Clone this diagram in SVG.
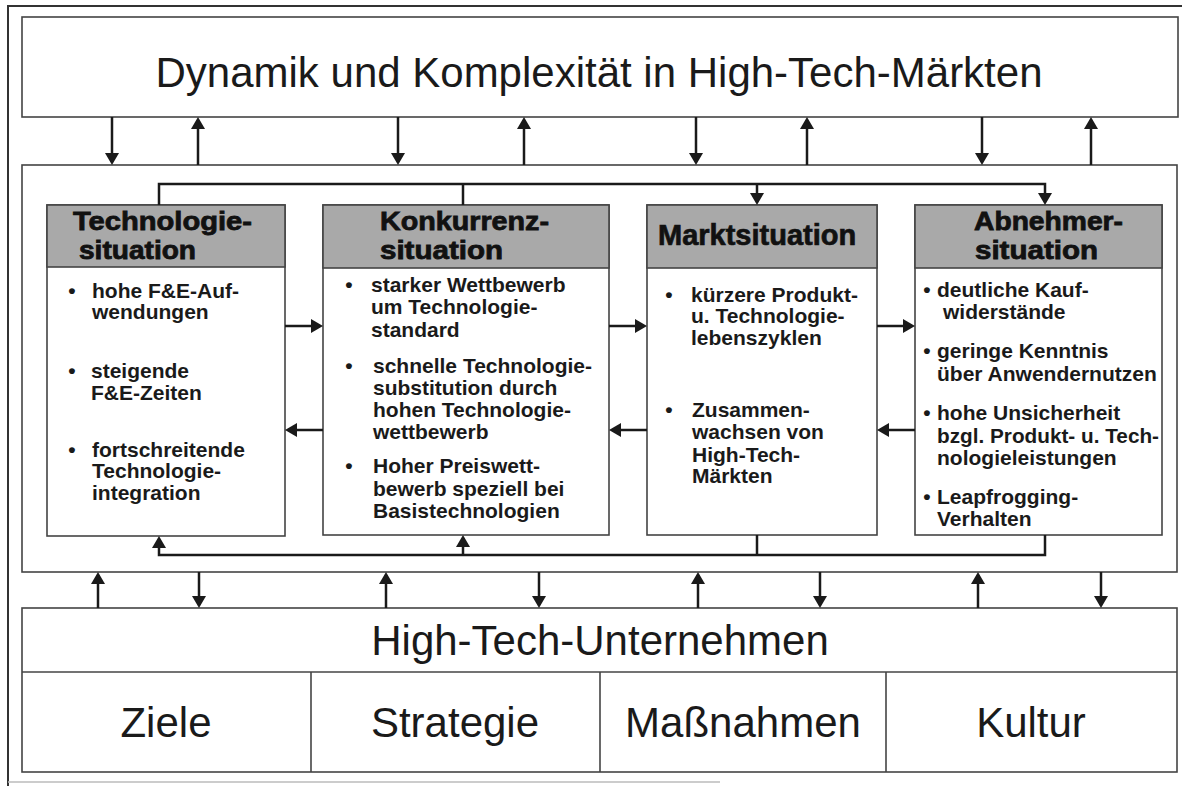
<svg xmlns="http://www.w3.org/2000/svg" width="1182" height="786" viewBox="0 0 1182 786">
<defs>
<style>
.frame{fill:none;stroke:#333;stroke-width:2}
.box{fill:#fff;stroke:#444;stroke-width:1.6}
.hdr{fill:#a9a9a9;stroke:#444;stroke-width:1.6}
.big{font-family:"Liberation Sans",Arial,Helvetica,sans-serif;font-size:42px;fill:#1a1a1a}
.h{font-family:"Liberation Sans",Arial,Helvetica,sans-serif;font-weight:bold;font-size:26px;fill:#111;stroke:#111;stroke-width:0.8}
.h1{font-family:"Liberation Sans",Arial,Helvetica,sans-serif;font-weight:bold;font-size:29px;fill:#111;stroke:#111;stroke-width:0.7}
.t{font-family:"Liberation Sans",Arial,Helvetica,sans-serif;font-weight:bold;font-size:21px;fill:#1a1a1a}
.c{fill:none;stroke:#1a1a1a;stroke-width:2.5}
.a{fill:none;stroke:#1a1a1a;stroke-width:2.5;marker-end:url(#arr)}
</style>
<marker id="arr" viewBox="0 0 12 14" refX="9" refY="7" markerWidth="12" markerHeight="14" markerUnits="userSpaceOnUse" orient="auto">
<path d="M0,0 L12,7 L0,14 z" fill="#1a1a1a"/>
</marker>
</defs>
<rect width="1182" height="786" fill="#fff"/>
<g id="outer-frame">
<path class="frame" d="M1182,6 H8 V786"/>
<line x1="8" y1="782" x2="720" y2="782" stroke="#bbb" stroke-width="1.5"/>
</g>

<g id="title">
<rect class="box" x="22" y="17" width="1156" height="100"/>
<text class="big" x="599" y="87" text-anchor="middle">Dynamik und Komplexität in High-Tech-Märkten</text>
</g>

<g id="environment">
<rect class="box" x="22" y="165" width="1155" height="407"/>
</g>

<g id="technologie">
<rect class="box" x="47" y="205" width="238" height="331"/>
<rect class="hdr" x="47" y="205" width="238" height="62"/>
<text class="h" x="73" y="230" textLength="179" lengthAdjust="spacingAndGlyphs">Technologie-</text>
<text class="h" x="79" y="259" textLength="117" lengthAdjust="spacingAndGlyphs">situation</text>
<text class="t" x="72" y="298" text-anchor="middle">•</text>
<text class="t" x="92" y="298">hohe F&amp;E-Auf-</text>
<text class="t" x="92" y="319">wendungen</text>
<text class="t" x="72" y="378" text-anchor="middle">•</text>
<text class="t" x="91" y="378">steigende</text>
<text class="t" x="91" y="400">F&amp;E-Zeiten</text>
<text class="t" x="72" y="457" text-anchor="middle">•</text>
<text class="t" x="92" y="457">fortschreitende</text>
<text class="t" x="92" y="478">Technologie-</text>
<text class="t" x="92" y="500">integration</text>
</g>

<g id="konkurrenz">
<rect class="box" x="323" y="205" width="286" height="330"/>
<rect class="hdr" x="323" y="205" width="286" height="63"/>
<text class="h" x="380" y="230" textLength="169" lengthAdjust="spacingAndGlyphs">Konkurrenz-</text>
<text class="h" x="380" y="259" textLength="123" lengthAdjust="spacingAndGlyphs">situation</text>
<text class="t" x="349" y="292" text-anchor="middle">•</text>
<text class="t" x="371" y="292">starker Wettbewerb</text>
<text class="t" x="371" y="314">um Technologie-</text>
<text class="t" x="371" y="337">standard</text>
<text class="t" x="349" y="373" text-anchor="middle">•</text>
<text class="t" x="373" y="373">schnelle Technologie-</text>
<text class="t" x="373" y="395">substitution durch</text>
<text class="t" x="373" y="417">hohen Technologie-</text>
<text class="t" x="373" y="439">wettbewerb</text>
<text class="t" x="349" y="473" text-anchor="middle">•</text>
<text class="t" x="373" y="473">Hoher Preiswett-</text>
<text class="t" x="373" y="496">bewerb speziell bei</text>
<text class="t" x="373" y="518">Basistechnologien</text>
</g>

<g id="markt">
<rect class="box" x="647" y="205" width="230" height="330"/>
<rect class="hdr" x="647" y="205" width="230" height="63"/>
<text class="h1" x="658" y="245">Marktsituation</text>
<text class="t" x="669" y="302" text-anchor="middle">•</text>
<text class="t" x="691" y="302">kürzere Produkt-</text>
<text class="t" x="691" y="323">u. Technologie-</text>
<text class="t" x="691" y="345">lebenszyklen</text>
<text class="t" x="669" y="417" text-anchor="middle">•</text>
<text class="t" x="692" y="417">Zusammen-</text>
<text class="t" x="692" y="439">wachsen von</text>
<text class="t" x="692" y="462">High-Tech-</text>
<text class="t" x="692" y="483">Märkten</text>
</g>

<g id="abnehmer">
<rect class="box" x="915" y="205" width="247" height="330"/>
<rect class="hdr" x="915" y="205" width="247" height="63"/>
<text class="h" x="974" y="230" textLength="149" lengthAdjust="spacingAndGlyphs">Abnehmer-</text>
<text class="h" x="975" y="259" textLength="123" lengthAdjust="spacingAndGlyphs">situation</text>
<text class="t" x="927" y="297" text-anchor="middle">•</text>
<text class="t" x="937" y="297">deutliche Kauf-</text>
<text class="t" x="943" y="319">widerstände</text>
<text class="t" x="927" y="358" text-anchor="middle">•</text>
<text class="t" x="937" y="358">geringe Kenntnis</text>
<text class="t" x="937" y="381">über Anwendernutzen</text>
<text class="t" x="927" y="420" text-anchor="middle">•</text>
<text class="t" x="937" y="420">hohe Unsicherheit</text>
<text class="t" x="937" y="443" textLength="222" lengthAdjust="spacingAndGlyphs">bzgl. Produkt- u. Tech-</text>
<text class="t" x="937" y="465">nologieleistungen</text>
<text class="t" x="927" y="504" text-anchor="middle">•</text>
<text class="t" x="937" y="504">Leapfrogging-</text>
<text class="t" x="937" y="526">Verhalten</text>
</g>

<g id="unternehmen">
<rect class="box" x="22" y="608" width="1155" height="164"/>
<line x1="22" y1="672" x2="1177" y2="672" stroke="#444" stroke-width="1.6"/>
<line x1="311" y1="672" x2="311" y2="772" stroke="#444" stroke-width="1.6"/>
<line x1="600" y1="672" x2="600" y2="772" stroke="#444" stroke-width="1.6"/>
<line x1="886" y1="672" x2="886" y2="772" stroke="#444" stroke-width="1.6"/>
<text class="big" x="600" y="655" text-anchor="middle">High-Tech-Unternehmen</text>
<text class="big" x="166" y="737" text-anchor="middle">Ziele</text>
<text class="big" x="455" y="737" text-anchor="middle">Strategie</text>
<text class="big" x="743" y="737" text-anchor="middle">Maßnahmen</text>
<text class="big" x="1031" y="737" text-anchor="middle">Kultur</text>
</g>

<g id="connectors">
<path class="a" d="M112,117 V162"/>
<path class="a" d="M198,165 V120"/>
<path class="a" d="M398,117 V162"/>
<path class="a" d="M524,165 V120"/>
<path class="a" d="M696,117 V162"/>
<path class="a" d="M807,165 V120"/>
<path class="a" d="M982,117 V162"/>
<path class="a" d="M1091,165 V120"/>

<path class="a" d="M98,608 V575"/>
<path class="a" d="M199,572 V605"/>
<path class="a" d="M386,608 V575"/>
<path class="a" d="M539,572 V605"/>
<path class="a" d="M698,608 V575"/>
<path class="a" d="M820,572 V605"/>
<path class="a" d="M978,608 V575"/>
<path class="a" d="M1101,572 V605"/>

<path class="a" d="M159,205 V184 H1045 V202"/>
<path class="c" d="M463,184 V205"/>
<path class="a" d="M757,184 V202"/>

<path class="a" d="M1045,535 V555 H159 V539"/>
<path class="c" d="M757,535 V555"/>
<path class="a" d="M463,555 V538"/>

<path class="a" d="M285,326 H320"/>
<path class="a" d="M323,430 H288"/>
<path class="a" d="M609,326 H644"/>
<path class="a" d="M647,430 H612"/>
<path class="a" d="M877,326 H912"/>
<path class="a" d="M915,430 H880"/>
</g>
</svg>
